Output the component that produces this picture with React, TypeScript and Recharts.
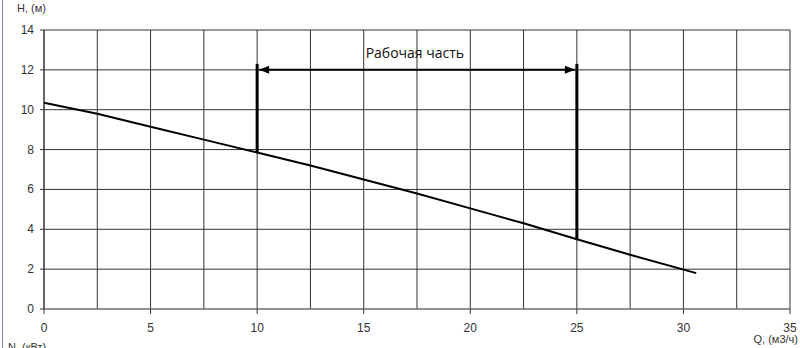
import React from 'react';
import { LineChart, Line, XAxis, YAxis, CartesianGrid, ReferenceLine, ReferenceDot } from 'recharts';

// Q, m3/h -> H, m
const flowQ = [0, 2.5, 5, 7.5, 10, 12.5, 15, 17.5, 20, 22.5, 25, 27.5, 30.6];
const headH = [10.35, 9.8, 9.15, 8.5, 7.85, 7.2, 6.5, 5.8, 5.05, 4.3, 3.5, 2.72, 1.8];

const xTicks = [0, 2.5, 5, 7.5, 10, 12.5, 15, 17.5, 20, 22.5, 25, 27.5, 30, 32.5, 35];
const yTicks = [0, 2, 4, 6, 8, 10, 12, 14];

const workStart = 10;
const workEnd = 25;
const workStartH = 7.85;
const workEndH = 3.5;
const workTop = 12.3;
const arrowH = 12;
const workLabel = 'Рабочая часть';

const data = flowQ.map((q, i) => ({ q, h: headH[i] }));

const XTick = (props: any) => {
  const { x, y, payload } = props;
  if (payload.value % 5 !== 0) return null;
  return (
    <g>
      <line x1={x} y1={y} x2={x} y2={y + 5} stroke="#333" />
      <text x={x} y={y + 23} textAnchor="middle" fontSize={12} fill="#333" fontFamily="Liberation Sans, Arial">
        {payload.value}
      </text>
    </g>
  );
};

const YTick = (props: any) => {
  const { x, y, payload } = props;
  return (
    <g>
      <line x1={x - 4} y1={y} x2={x} y2={y} stroke="#333" />
      <text x={x - 10} y={y + 4} textAnchor="end" fontSize={12} fill="#333" fontFamily="Liberation Sans, Arial">
        {payload.value}
      </text>
    </g>
  );
};

const Arrow = (props: any) => {
  const { x1, y1, x2, y2 } = props;
  return (
    <g>
      <line x1={x1 + 2} y1={y1} x2={x2 - 2} y2={y2} stroke="#000" strokeWidth={2} />
      <path d={`M${x1 + 2},${y1} l10,-4 l0,8 z`} fill="#000" />
      <path d={`M${x2 - 2},${y2} l-10,-4 l0,8 z`} fill="#000" />
    </g>
  );
};

const LabelShape = (props: any) => {
  const { cx, cy } = props;
  return (
    <text x={cx} y={cy + 5} textAnchor="middle" fontSize={14} fill="#111" fontFamily="Open Sans, Noto Sans, sans-serif">
      {workLabel}
    </text>
  );
};

const App: React.FC = () => {
  return (
    <div style={{ position: 'relative', width: 800, height: 348, background: '#fff', overflow: 'hidden' }}>
      <style>{'body{margin:0}'}</style>
      <div style={{ position: 'absolute', left: 2, top: 0, width: 1, height: 348, background: '#8a8ab0' }} />
      <LineChart width={800} height={348} data={data} margin={{ top: 30, right: 10, bottom: 19, left: 0 }}>
        <CartesianGrid stroke="#333" />
        <XAxis
          dataKey="q"
          type="number"
          domain={[0, 35]}
          ticks={xTicks}
          interval={0}
          tickLine={false}
          tickSize={0}
          tickMargin={0}
          height={20}
          stroke="#888"
          tick={<XTick />}
        />
        <YAxis
          type="number"
          domain={[0, 14]}
          ticks={yTicks}
          interval={0}
          width={44}
          tickLine={false}
          tickSize={0}
          tickMargin={0}
          stroke="#333"
          tick={<YTick />}
        />
        <Line dataKey="h" stroke="#000" strokeWidth={2} dot={false} isAnimationActive={false} />
        <ReferenceLine segment={[{ x: workStart, y: workStartH }, { x: workStart, y: workTop }]} stroke="#000" strokeWidth={3} />
        <ReferenceLine segment={[{ x: workEnd, y: workEndH }, { x: workEnd, y: workTop }]} stroke="#000" strokeWidth={3} />
        <ReferenceLine segment={[{ x: workStart, y: arrowH }, { x: workEnd, y: arrowH }]} shape={<Arrow />} />
        <ReferenceDot x={17.4} y={12.85} r={0} shape={<LabelShape />} />
      </LineChart>
      <div style={{ position: 'absolute', left: 17, top: 2, fontSize: 11, color: '#333', fontFamily: 'Liberation Sans, Arial' }}>H, (м)</div>
      <div style={{ position: 'absolute', right: 2, top: 333, fontSize: 11, color: '#333', fontFamily: 'Liberation Sans, Arial' }}>Q, (м3/ч)</div>
      <div style={{ position: 'absolute', left: 8, top: 341, fontSize: 11, color: '#333', fontFamily: 'Liberation Sans, Arial' }}>N, (кВт)</div>
    </div>
  );
};

export default App;
